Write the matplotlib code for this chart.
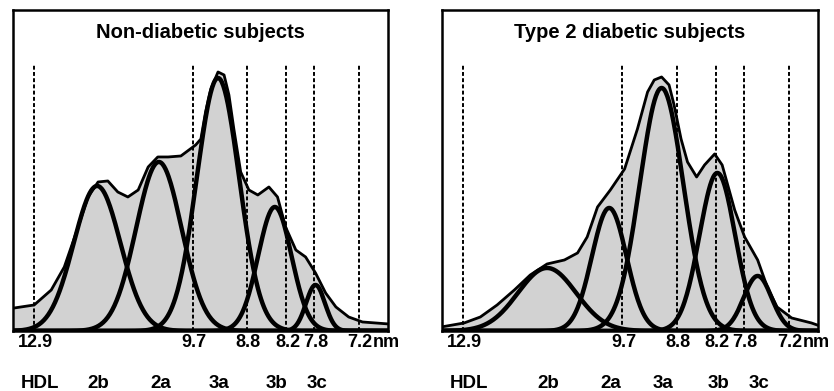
import numpy as np
import matplotlib
matplotlib.use("Agg")
import matplotlib.pyplot as plt
import matplotlib.transforms as mtransforms

plt.rcParams['font.family'] = ['Liberation Sans', 'DejaVu Sans']
plt.rcParams['font.weight'] = 'bold'

# HDL size markers (nm)
sizes = [12.9, 9.7, 8.8, 8.2, 7.8, 7.2]
size_labels = ['12.9', '9.7', '8.8', '8.2', '7.8', '7.2']
subclasses = ['2b', '2a', '3a', '3b', '3c']

# Non-diabetic: fitted subclass components (centre nm, height, log-width)
nd_centers = [11.52, 10.31, 9.27, 8.37, 7.78]
nd_heights = [145, 169, 253, 124, 46]
nd_widths = [0.042, 0.041, 0.038, 0.030, 0.017]
# Non-diabetic: measured profile
nd_profile_nm = [13.37, 12.90, 12.51, 12.22, 11.92, 11.71, 11.50, 11.30, 11.10,
                 10.90, 10.70, 10.51, 10.33, 10.14, 9.91, 9.65, 9.56, 9.48,
                 9.39, 9.27, 9.17, 9.09, 9.01, 8.90, 8.77, 8.63, 8.46, 8.33,
                 8.21, 8.06, 7.92, 7.78, 7.64, 7.50, 7.33, 7.15, 6.82]
nd_profile_abs = [23, 26, 41, 64, 104, 134, 149, 150, 139,
                  134, 141, 164, 174, 174, 175, 186, 192, 219,
                  242, 259, 256, 236, 202, 159, 141, 136, 144, 134,
                  104, 81, 74, 58, 38, 24, 14, 9, 7]

# Type 2 diabetic: fitted subclass components
t2_centers = [11.10, 9.93, 9.04, 8.18, 7.61]
t2_heights = [63, 123, 243, 158, 55]
t2_widths = [0.052, 0.031, 0.039, 0.032, 0.025]
# Type 2 diabetic: measured profile
t2_profile_nm = [13.42, 12.88, 12.51, 12.14, 11.77, 11.44, 11.10, 10.76, 10.51,
                 10.33, 10.14, 9.91, 9.66, 9.44, 9.27, 9.16, 9.04, 8.92, 8.84,
                 8.73, 8.63, 8.49, 8.37, 8.22, 8.11, 7.93, 7.79, 7.61, 7.48,
                 7.35, 7.16, 6.91, 6.84]
t2_profile_abs = [4, 8, 14, 26, 41, 56, 67, 71, 78,
                  94, 124, 141, 162, 202, 239, 251, 254, 246, 226,
                  192, 169, 154, 166, 177, 166, 121, 94, 71, 44,
                  24, 13, 8, 6]

panels = [
    ("Non-diabetic subjects", nd_centers, nd_heights, nd_widths,
     nd_profile_nm, nd_profile_abs, [0.0156, 0.1535, 0.4496, 0.8210]),
    ("Type 2 diabetic subjects", t2_centers, t2_heights, t2_widths,
     t2_profile_nm, t2_profile_abs, [0.5300, 0.1535, 0.4508, 0.8210]),
]

fig = plt.figure(figsize=(8.34, 3.91), dpi=100)
grid = np.geomspace(6.83, 13.40, 500)

for title, centers, heights, widths, prof_x, prof_y, rect in panels:
    ax = fig.add_axes(rect)
    ax.set_xscale('log')
    ax.set_xlim(13.40, 6.83)
    ax.set_ylim(0, 321)
    ax.set_xticks([])
    ax.set_xticks([], minor=True)
    ax.set_yticks([])
    for sp in ax.spines.values():
        sp.set_linewidth(1.8)

    ax.fill_between(prof_x, prof_y, 0, color='#d2d2d2', zorder=1, lw=0)

    for s in sizes:
        ax.plot([s, s], [0, 267], color='black', ls=(0, (2.0, 1.2)), lw=1.4, zorder=2)

    for c, h, w in zip(centers, heights, widths):
        y = h * np.exp(-0.5 * (np.log(grid / c) / w) ** 2)
        ax.plot(grid, y, color='black', lw=3.2, zorder=3, solid_capstyle='round')

    ax.plot(prof_x, prof_y, color='black', lw=2.0, zorder=4, solid_joinstyle='round')

    ax.text(0.5, 0.931, title, transform=ax.transAxes, ha='center', va='center',
            fontsize=14.5, fontweight='bold')

    trans = mtransforms.blended_transform_factory(ax.transData, ax.transAxes)
    for s, lab in zip(sizes, size_labels):
        ax.annotate(lab, xy=(s, 0), xycoords=trans, xytext=(1, -2),
                    textcoords='offset points', ha='center', va='top',
                    fontsize=13, fontweight='bold', annotation_clip=False)
    ax.annotate('nm', xy=(sizes[-1], 0), xycoords=trans, xytext=(10.5, -2),
                textcoords='offset points', ha='left', va='top',
                fontsize=13, fontweight='bold', annotation_clip=False)

    ax.annotate('HDL', xy=(sizes[0], 0), xycoords=trans, xytext=(4, -38),
                textcoords='offset points', ha='center', va='center',
                fontsize=13.5, fontweight='bold', annotation_clip=False)
    for c, lab in zip(centers, subclasses):
        ax.annotate(lab, xy=(c, 0), xycoords=trans, xytext=(1, -38),
                    textcoords='offset points', ha='center', va='center',
                    fontsize=13.5, fontweight='bold', annotation_clip=False)

fig.savefig('out.png', dpi=100)
